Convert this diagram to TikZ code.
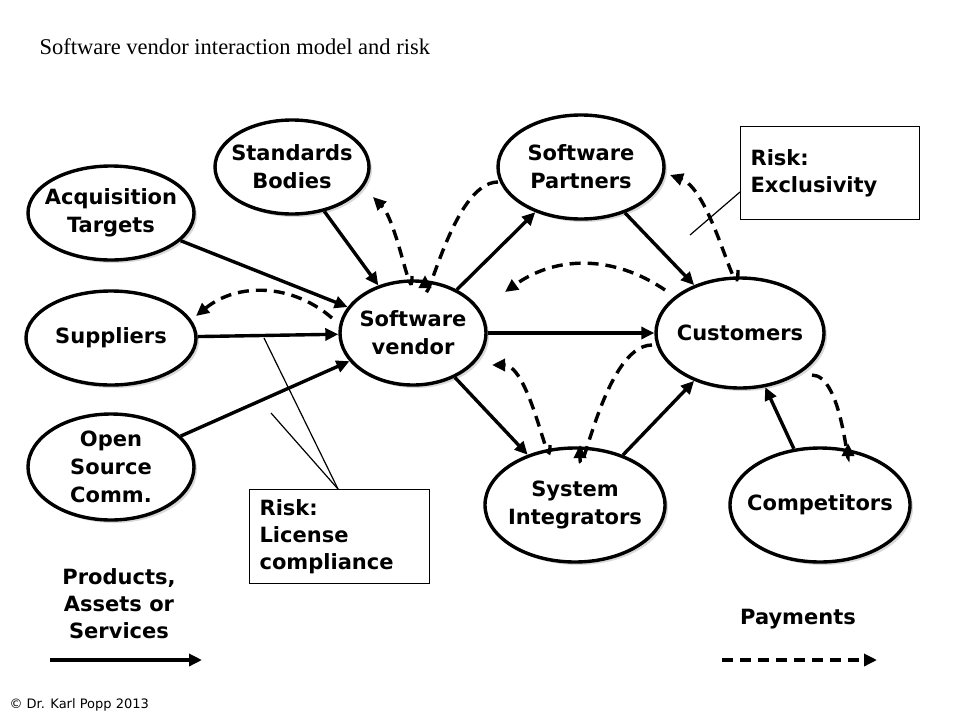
\documentclass[tikz,border=0pt]{standalone}
\usepackage{fontspec}
\setmainfont{DejaVu Sans}
\newfontfamily\titlefont{Liberation Serif}
\usetikzlibrary{shapes.geometric,arrows.meta,shadows}
\begin{document}
\begin{tikzpicture}[x=1pt,y=-1pt,
  ell/.style={ellipse,draw,line width=3.4pt,fill=white,minimum width=2*#1,align=center,font=\bfseries\fontsize{21}{28}\selectfont,inner sep=-20pt,drop shadow={shadow xshift=3pt,shadow yshift=-3pt,opacity=0.3}},
  sol/.style={line width=3.4pt,-{Triangle[length=13pt,width=12pt]}},
  dsh/.style={line width=3.4pt,dash pattern=on 11pt off 7pt,-{Triangle[length=13pt,width=12pt]}},
  rbox/.style={draw,line width=1.2pt,fill=white,align=left,anchor=north west,font=\bfseries\fontsize{21}{27}\selectfont,inner xsep=10pt,inner ysep=6pt},
  lbl/.style={font=\bfseries\fontsize{21}{27}\selectfont,align=center}]
\useasboundingbox (0,0) rectangle (960,720);
\node[anchor=west,font=\titlefont\fontsize{22.5}{26}\selectfont] (title) at (36,47) {Software vendor interaction model and risk};
\node[ell=77,minimum height=94] (sb) at (292,167) {Standards\\Bodies};
\node[ell=83,minimum height=94] (at) at (111,213) {Acquisition\\Targets};
\node[ell=85,minimum height=94] (sup) at (111,338) {Suppliers};
\node[ell=83,minimum height=106] (os) at (111,467) {Open\\Source\\Comm.};
\node[ell=73,minimum height=104] (sv) at (413,333) {Software\\vendor};
\node[ell=83,minimum height=104] (sp) at (581,167) {Software\\Partners};
\node[ell=84,minimum height=110] (cu) at (740,333) {Customers};
\node[ell=90,minimum height=114] (si) at (575,505) {System\\Integrators};
\node[ell=90,minimum height=114] (co) at (820,505) {Competitors};
% solid
\draw[sol] (at) -- (sv);
\draw[sol] (sup) -- (sv);
\draw[sol] (os) -- (sv);
\draw[sol] (sb) -- (sv);
\draw[sol] (sv) -- (sp);
\draw[sol] (sv) -- (cu);
\draw[sol] (sv) -- (si);
\draw[sol] (si) -- (cu);
\draw[sol] (sp) -- (cu);
\draw[sol] (co) -- (cu);
% dashed
\draw[dsh] (332,318) to[bend right=40] (196,316);
\draw[dsh] (412,276) to[out=-90,in=-45] (373,197);
\draw[dsh] (498,182) to[out=180,in=-90] (425,275);
\draw[dsh] (738,270) to[out=-90,in=-20] (670,175);
\draw[dsh] (665,290) to[bend right=35] (505,292);
\draw[dsh] (550,445) to[out=-90,in=0] (492,365);
\draw[dsh] (652,345) to[out=180,in=-90] (580,445);
\draw[dsh] (812,375) to[out=0,in=-90] (848,443);
% risk boxes
\node[rbox,minimum width=179,minimum height=93,text width=159] (rx) at (740,126) {Risk:\\Exclusivity};
\node[rbox,minimum width=180,minimum height=94,text width=160] (rl) at (249,489) {Risk:\\License\\compliance};
\coordinate (p1) at (690,235);
\coordinate (p2) at (264,338);
\coordinate (p3) at (271,413);
\coordinate (q) at (338,489);
\draw[line width=1.2pt] (rx.west |- 0,192) -- (p1);
\draw[line width=1.2pt] (q) -- (p2);
\draw[line width=1.2pt] (q) -- (p3);
% legend
\node[lbl] (lp) at (119,604) {Products,\\Assets or\\Services};
\coordinate (l1) at (50,660); \coordinate (l2) at (202,660);
\draw[sol] (l1) -- (l2);
\node[lbl] (lpay) at (798,619) {Payments};
\coordinate (m1) at (722,660); \coordinate (m2) at (877,660);
\draw[dsh] (m1) -- (m2);
\node[anchor=west,font=\fontsize{13}{15}\selectfont] (copy) at (6,705) {© Dr. Karl Popp 2013};
\end{tikzpicture}
\end{document}
